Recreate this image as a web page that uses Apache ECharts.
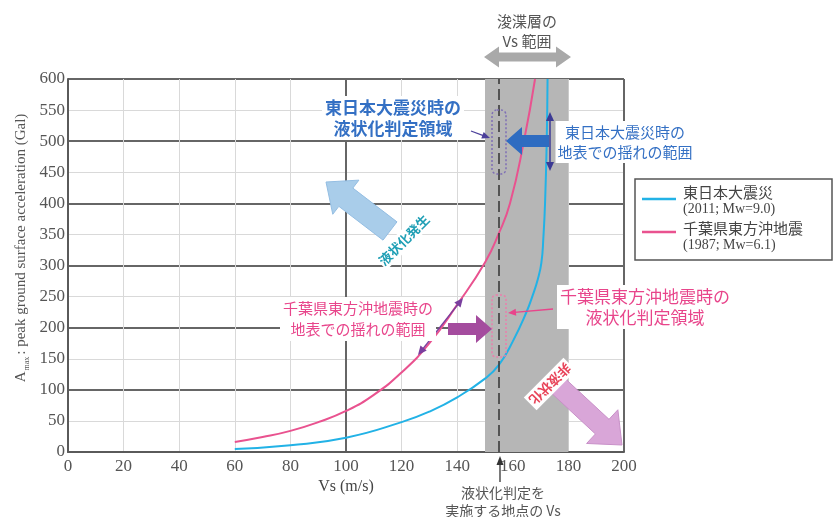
<!DOCTYPE html>
<html><head><meta charset="utf-8">
<script src="https://cdn.jsdelivr.net/npm/echarts@6/dist/echarts.min.js"></script>
<style>html,body{margin:0;padding:0;background:#fff}#c{width:835px;height:517px}</style>
</head><body><div id="c"></div>
<script>
// ---- data ----
const xMin = 0, xMax = 200, xStep = 20;
const yMin = 0, yMax = 600, yStep = 50;
const bandRange = [150, 180];      // Vs range of the layer
const siteVs = 155;                // Vs at the evaluated site
const chibaVs   = [60, 70, 80, 90, 100, 110, 120, 130, 140, 150, 155, 159, 164, 168];
const chibaAmax = [16, 24, 34, 48, 66, 92, 128, 175, 237, 305, 352, 400, 500, 600];
const tohokuVs   = [60, 80, 100, 120, 130, 140, 150, 155, 160, 165, 167, 169, 170.3, 171, 171.6, 172.2, 172.5];
const tohokuAmax = [5, 11, 23, 48, 65, 88, 118, 140, 178, 226, 250, 278, 305, 345, 400, 500, 600];
const tohokuName = ['東日本大震災', '(2011; Mw=9.0)'];
const chibaName  = ['千葉県東方沖地震', '(1987; Mw=6.1)'];

const tohokuColor = '#22b2e6', chibaColor = '#e9528f';
const CJK = '"Noto Sans CJK JP", sans-serif';
const SERIF = '"Liberation Serif", "DejaVu Serif", serif';

const pair = (xs, ys) => xs.map((x, i) => [x, ys[i]]);

function arrowPoly(x1, y1, x2, y2, sw, hw, hl) {
  const dx = x2 - x1, dy = y2 - y1, L = Math.hypot(dx, dy), ux = dx / L, uy = dy / L, nx = -uy, ny = ux;
  const bx = x2 - ux * hl, by = y2 - uy * hl, s = sw / 2, h = hw / 2;
  return [[x1 + nx * s, y1 + ny * s], [bx + nx * s, by + ny * s], [bx + nx * h, by + ny * h], [x2, y2],
          [bx - nx * h, by - ny * h], [bx - nx * s, by - ny * s], [x1 - nx * s, y1 - ny * s]];
}
function dblArrowPoly(x1, y1, x2, y2, sw, hw, hl) {
  const dx = x2 - x1, dy = y2 - y1, L = Math.hypot(dx, dy), ux = dx / L, uy = dy / L, nx = -uy, ny = ux, s = sw / 2, h = hw / 2;
  const ax = x1 + ux * hl, ay = y1 + uy * hl, bx = x2 - ux * hl, by = y2 - uy * hl;
  return [[x1, y1], [ax + nx * h, ay + ny * h], [ax + nx * s, ay + ny * s], [bx + nx * s, by + ny * s], [bx + nx * h, by + ny * h], [x2, y2],
          [bx - nx * h, by - ny * h], [bx - nx * s, by - ny * s], [ax - nx * s, ay - ny * s], [ax - nx * h, ay - ny * h]];
}
function thinArrow(x1, y1, x2, y2, color, lw, hw, hl, both) {
  const dx = x2 - x1, dy = y2 - y1, L = Math.hypot(dx, dy), ux = dx / L, uy = dy / L, nx = -uy, ny = ux, h = hw / 2;
  const els = [];
  const sx = both ? x1 + ux * hl * 0.8 : x1, sy = both ? y1 + uy * hl * 0.8 : y1;
  els.push({ type: 'line', z: 100, shape: { x1: sx, y1: sy, x2: x2 - ux * hl * 0.8, y2: y2 - uy * hl * 0.8 }, style: { stroke: color, lineWidth: lw } });
  const bx = x2 - ux * hl, by = y2 - uy * hl;
  els.push({ type: 'polygon', z: 100, shape: { points: [[x2, y2], [bx + nx * h, by + ny * h], [bx - nx * h, by - ny * h]] }, style: { fill: color } });
  if (both) {
    const cx = x1 + ux * hl, cy = y1 + uy * hl;
    els.push({ type: 'polygon', z: 100, shape: { points: [[x1, y1], [cx + nx * h, cy + ny * h], [cx - nx * h, cy - ny * h]] }, style: { fill: color } });
  }
  return els;
}
function txt(text, x, y, o) {
  o = o || {};
  return {
    type: 'text', z: 110, x: x, y: y, rotation: o.rotation || 0,
    style: {
      text: text, fill: o.color || '#444', fontSize: o.size || 14, fontFamily: o.family || CJK,
      fontWeight: o.weight || 'normal', align: o.align || 'center', textAlign: o.align || 'center',
      verticalAlign: 'middle', textVerticalAlign: 'middle', lineHeight: o.lh || (o.size || 14) + 5,
      backgroundColor: o.bg || null, padding: o.pad || 0, rich: o.rich
    }
  };
}

const chart = echarts.init(document.getElementById('c'), null, { renderer: 'canvas' });

const graphics = [].concat(
  [{ type: 'polygon', z: 100, shape: { points: dblArrowPoly(484, 57, 571, 57, 9, 21, 15) }, style: { fill: '#a9a9a9' } }],
  [txt('浚渫層の', 527, 21, { size: 15, color: '#555' }), txt('Vs 範囲', 527, 41, { size: 15, color: '#555' })],
  [txt('東日本大震災時の\n液状化判定領域', 393, 118, { size: 17, color: '#3470c4', weight: 'bold', lh: 21, bg: '#fff', pad: [1, 3] })],
  thinArrow(471, 131, 490, 138, '#4b3f9a', 1.3, 7, 8, false),
  [{ type: 'rect', z: 100, shape: { x: 492, y: 110, width: 14, height: 64, r: 5 }, style: { fill: null, stroke: '#7f6fb5', lineWidth: 1.5, lineDash: [2, 2] } }],
  [{ type: 'polygon', z: 100, shape: { points: arrowPoly(549, 141, 506, 141, 12, 28, 16) }, style: { fill: '#2e6cc1' } }],
  thinArrow(550, 112, 550, 171, '#3c3a94', 1.5, 8, 9, true),
  [txt('東日本大震災時の\n地表での揺れの範囲', 625, 142, { size: 15, color: '#3470c4', lh: 20, bg: '#fff', pad: [1, 2] })],
  [txt('千葉県東方沖地震時の\n液状化判定領域', 645, 307, { size: 17, color: '#e8458b', lh: 21, bg: '#fff', pad: [1, 3] })],
  thinArrow(553, 309, 508, 313, '#e8458b', 1.3, 7, 8, false),
  [{ type: 'rect', z: 100, shape: { x: 492, y: 295, width: 14, height: 62, r: 4 }, style: { fill: null, stroke: '#ea7fac', lineWidth: 1.5, lineDash: [2, 2] } }],
  [{ type: 'polygon', z: 100, shape: { points: arrowPoly(448, 329, 492, 329, 12, 28, 16) }, style: { fill: '#a44c9e' } }],
  thinArrow(418, 355, 463, 298, '#7a3f9e', 1.5, 8, 9, true),
  [txt('千葉県東方沖地震時の\n地表での揺れの範囲', 358, 319, { size: 15, color: '#e8458b', lh: 21, bg: '#fff', pad: [1, 3] })],
  [{ type: 'polygon', z: 100, shape: { points: arrowPoly(390, 231, 326, 182, 23, 43, 25) }, style: { fill: '#a9cdea', stroke: '#93bde2', lineWidth: 1 } }],
  [txt('液状化発生', 404, 240, { size: 13, color: '#1f9fb5', weight: 'bold', rotation: Math.PI / 4, bg: '#fff', pad: [0, 1] })],
  [{ type: 'polygon', z: 100, shape: { points: arrowPoly(552, 380, 622, 445, 20, 46, 27) }, style: { fill: '#d9a6d8', stroke: '#c890c8', lineWidth: 1 } }],
  [txt('非液状化', 550, 384, { size: 13, color: '#e8455a', weight: 'bold', rotation: -3 * Math.PI / 4, bg: '#fff', pad: [0, 2] })],
  [{ type: 'rect', z: 100, shape: { x: 635, y: 179, width: 197, height: 81 }, style: { fill: '#fff', stroke: '#555', lineWidth: 1.5 } },
   { type: 'line', z: 101, shape: { x1: 642, y1: 199, x2: 676, y2: 199 }, style: { stroke: tohokuColor, lineWidth: 2.5 } },
   { type: 'line', z: 101, shape: { x1: 642, y1: 232, x2: 676, y2: 232 }, style: { stroke: chibaColor, lineWidth: 2.5 } },
   txt(tohokuName[0], 683, 192, { size: 15, color: '#444', align: 'left' }),
   txt(tohokuName[1], 683, 209, { size: 14, color: '#444', align: 'left', family: SERIF }),
   txt(chibaName[0], 683, 228, { size: 15, color: '#444', align: 'left' }),
   txt(chibaName[1], 683, 245, { size: 14, color: '#444', align: 'left', family: SERIF })],
  [txt('Vs (m/s)', 346, 487, { size: 16, color: '#444', family: SERIF })],
  thinArrow(500, 482, 500, 456, '#333', 1.3, 7, 9, false),
  [txt('液状化判定を', 503, 493, { size: 14, color: '#555' }), txt('実施する地点の Vs', 503, 511, { size: 14, color: '#555' })],
  [txt('{a|A}{s|max}{a|: peak ground surface acceleration (Gal)}', 21, 248, {
    rotation: Math.PI / 2, size: 15, color: '#555', family: SERIF,
    rich: { a: { fontSize: 15, fontFamily: SERIF, fill: '#555', color: '#555' }, s: { fontSize: 8, fontFamily: SERIF, fill: '#555', color: '#555', verticalAlign: 'bottom', padding: [6, 2, 0, 1] } }
  })]
);

const option = {
  animation: false,
  grid: { left: 68, right: 211, top: 79, bottom: 65, containLabel: false },
  xAxis: [
    { type: 'value', min: xMin, max: xMax, interval: xStep,
      axisLine: { show: true, lineStyle: { color: '#5a5a5a', width: 2 } }, axisTick: { show: false },
      axisLabel: { color: '#555', fontSize: 17, fontFamily: SERIF, margin: 6 },
      splitLine: { show: true, lineStyle: { color: '#d9d9d9', width: 1 } } },
    { type: 'value', min: xMin, max: xMax, interval: 100, position: 'bottom',
      axisLine: { show: false }, axisTick: { show: false }, axisLabel: { show: false },
      splitLine: { show: true, lineStyle: { color: '#666', width: 2 } } }
  ],
  yAxis: [
    { type: 'value', min: yMin, max: yMax, interval: yStep,
      axisLine: { show: true, lineStyle: { color: '#5a5a5a', width: 2 } }, axisTick: { show: false },
      axisLabel: { color: '#555', fontSize: 17, fontFamily: SERIF, margin: 3 },
      splitLine: { show: true, lineStyle: { color: '#d9d9d9', width: 1 } } },
    { type: 'value', min: yMin, max: yMax, interval: 100, position: 'left',
      axisLine: { show: false }, axisTick: { show: false }, axisLabel: { show: false },
      splitLine: { show: true, lineStyle: { color: '#666', width: 2 } } }
  ],
  series: [
    { name: 'band', type: 'line', z: -1, data: [[bandRange[0], 0], [bandRange[1], 0]], showSymbol: false,
      lineStyle: { opacity: 0 }, silent: true,
      markArea: { silent: true, itemStyle: { color: '#b6b6b6' }, data: [[{ xAxis: bandRange[0] }, { xAxis: bandRange[1] }]] } },
    { name: 'site', type: 'line', z: 3, data: [], showSymbol: false,
      markLine: { silent: true, symbol: 'none', label: { show: false },
        lineStyle: { color: '#333', width: 1.5, type: [11, 5] }, data: [{ xAxis: siteVs }] } },
    { name: tohokuName[0], type: 'line', z: 4, data: pair(tohokuVs, tohokuAmax), smooth: 0.5,
      showSymbol: false, lineStyle: { color: tohokuColor, width: 2 }, itemStyle: { color: tohokuColor } },
    { name: chibaName[0], type: 'line', z: 4, data: pair(chibaVs, chibaAmax), smooth: 0.5,
      showSymbol: false, lineStyle: { color: chibaColor, width: 2 }, itemStyle: { color: chibaColor } }
  ],
  graphic: { elements: graphics }
};
chart.setOption(option);
</script>
</body></html>
